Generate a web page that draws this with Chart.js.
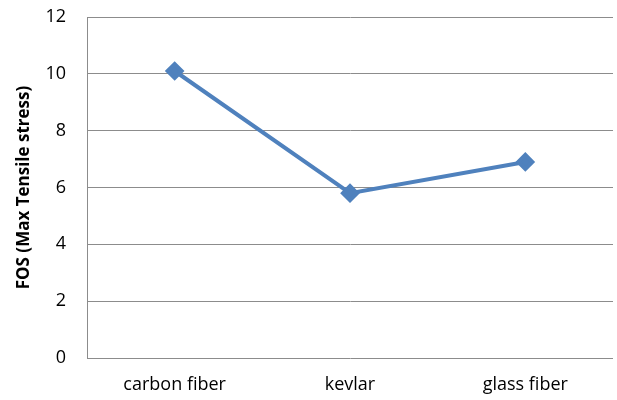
<!DOCTYPE html>
<html>
<head>
<meta charset="utf-8">
<script src="https://cdn.jsdelivr.net/npm/chart.js@4.4.0/dist/chart.umd.min.js"></script>
<style>
  html, body { margin: 0; padding: 0; background: #fff; overflow: hidden; }
  #wrap { position: relative; width: 617px; height: 400px; }
  canvas { display: block; }
</style>
</head>
<body>
<div id="wrap"><canvas id="fosChart"></canvas></div>
<script>
// 数据
const materials = ['carbon fiber', 'kevlar', 'glass fiber'];
const fosValues = [10.1, 5.8, 6.9];
const yTicks = [0, 2, 4, 6, 8, 10, 12];

const FONT = '"Open Sans", "Noto Sans", sans-serif';

const ctx = document.getElementById('fosChart').getContext('2d');
new Chart(ctx, {
    type: 'line',
    data: {
        labels: materials,
        datasets: [{
            label: 'FOS',
            data: fosValues,
            borderColor: '#4F81BD',
            backgroundColor: '#4F81BD',
            borderWidth: 4,
            tension: 0,
            pointStyle: 'rectRot',
            pointRadius: 7,
            pointBackgroundColor: '#4F81BD',
            pointBorderColor: '#4F81BD',
            fill: false
        }]
    },
    options: {
        responsive: true,
        maintainAspectRatio: false,
        animation: false,
        // 关掉自动留白，否则点的半径会把右边挤窄
        layout: { autoPadding: false, padding: { left: 0, right: 4, top: 17, bottom: 0 } },
        plugins: {
            legend: { display: false },
            tooltip: { enabled: false }
        },
        scales: {
            x: {
                offset: true,
                grid: { display: false, drawTicks: false },
                border: { display: false },
                ticks: {
                    color: '#000',
                    font: { family: FONT, size: 18 },
                    padding: 16,
                    maxRotation: 0
                },
                afterFit: axis => {
                    // 固定轴高度，去掉标签溢出留白
                    axis.height = 42;
                    axis.paddingLeft = 0;
                    axis.paddingRight = 0;
                }
            },
            y: {
                min: 0,
                max: 12,
                afterBuildTicks: axis => {
                    axis.ticks = yTicks.map(v => ({ value: v }));
                },
                // 用透明刻度线留出标签与轴之间的距离
                grid: { color: '#8c8c8c', lineWidth: 1, drawTicks: true, tickLength: 17, tickColor: 'rgba(0,0,0,0)' },
                border: { display: true, color: '#8c8c8c', width: 1 },
                ticks: {
                    color: '#000',
                    font: { family: FONT, size: 18 },
                    padding: 4
                },
                title: {
                    display: true,
                    text: 'FOS (Max Tensile stress)',
                    color: '#000',
                    font: { family: FONT, size: 17, weight: 'bold' },
                    padding: { top: 14, bottom: 0 }
                },
                afterFit: axis => {
                    axis.width = 87;
                    axis.paddingTop = 0;
                    axis.paddingBottom = 0;
                }
            }
        }
    }
});
</script>
</body>
</html>
